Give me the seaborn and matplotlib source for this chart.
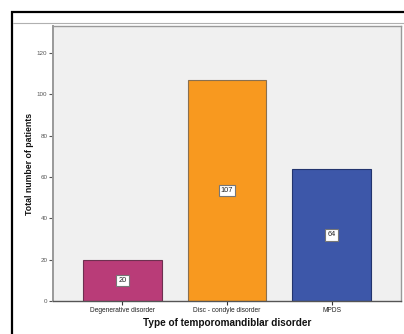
import matplotlib
matplotlib.use("Agg")
import matplotlib.pyplot as plt
import matplotlib.patches as mpatches
import seaborn as sns
import pandas as pd

categories = ["Degenerative disorder", "Disc - condyle disorder", "MPDS"]
patients = [20, 107, 64]
colors = ["#B93C78", "#F8991F", "#3D57A9"]
edge_colors = ["#6E3050", "#8A7050", "#23346E"]
yticks = [0, 20, 40, 60, 80, 100, 120]

sns.set_theme(style="white")
plt.rcParams['font.family'] = ['Liberation Sans', 'DejaVu Sans']

df = pd.DataFrame({"Type": categories, "Patients": patients})

fig = plt.figure(figsize=(4.04, 3.34), dpi=100)
W, H = 404, 334

# outer frame (partially outside the image)
fig.patches.append(mpatches.Rectangle((11.5 / W, -0.1), 1.2, 1 - 12.5 / H + 0.1,
                                      transform=fig.transFigure, fill=False,
                                      edgecolor="black", linewidth=1.6, zorder=0))
fig.lines.append(plt.Line2D([12.5 / W, 1.0], [1 - 22.5 / H, 1 - 22.5 / H],
                            transform=fig.transFigure, color="#B0B0B0", linewidth=0.8))

ax = fig.add_axes([53 / W, 1 - 301 / H, 348 / W, (301 - 26) / H])
ax.set_facecolor("#F0F0F0")

sns.barplot(data=df, x="Type", y="Patients", hue="Type", palette=colors,
            width=0.755, dodge=False, legend=False, ax=ax, saturation=1)
for p, ec in zip(ax.patches, edge_colors):
    p.set_edgecolor(ec)
    p.set_linewidth(0.8)

for i, v in enumerate(patients):
    ax.text(i, v / 2, str(v), ha="center", va="center", fontsize=5.3, color="#222222",
            bbox=dict(boxstyle="square,pad=0.3", facecolor="white", edgecolor="#777777", linewidth=0.8))

ax.set_xlim(-0.665, 2.665)
ax.set_ylim(0, 133)
ax.set_yticks(yticks)
ax.set_yticklabels([str(t) for t in yticks], fontsize=4.5, color="#555555")
ax.tick_params(axis="x", labelsize=4.8, colors="#333333", length=3, width=0.8, pad=1.5, direction="out", bottom=True)
ax.tick_params(axis="y", length=3, width=0.8, pad=1, direction="out", left=True, colors="#555555")
for lab in ax.get_xticklabels():
    lab.set_color("#222222")

for s in ["top", "right", "left"]:
    ax.spines[s].set_color("#999999")
    ax.spines[s].set_linewidth(1.0)
ax.spines["left"].set_linewidth(1.4)
ax.spines["bottom"].set_color("#555555")
ax.spines["bottom"].set_linewidth(1.0)

ax.set_xlabel("Type of temporomandiblar disorder", fontsize=7.2, fontweight="bold", labelpad=3, color="#111111")
ax.set_ylabel("Total number of patients", fontsize=6.3, fontweight="bold", labelpad=2, color="#111111")

fig.savefig("out.png", dpi=100)
